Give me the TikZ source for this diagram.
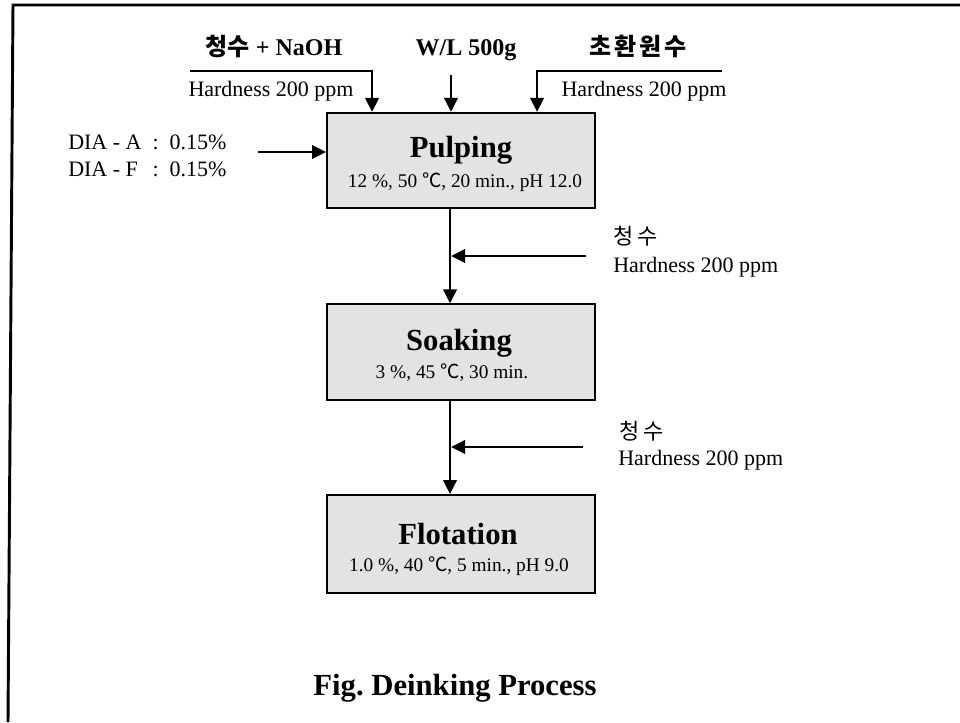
\documentclass[tikz,border=0pt]{standalone}
\usepackage{fontspec}
\setmainfont{Liberation Serif}
\newfontfamily\kr{Noto Sans CJK KR}
\usetikzlibrary{arrows.meta}
\frenchspacing
\begin{document}
\begin{tikzpicture}[x=0.75pt,y=-0.75pt,
  box/.style={draw=black,line width=1.4pt,fill=black!11,minimum width=201pt,minimum height=71.5pt,inner sep=0pt},
  ttl/.style={font=\fontsize{23}{26}\selectfont\bfseries,inner sep=0pt,anchor=base},
  sub/.style={font=\fontsize{14.5}{16}\selectfont,inner sep=0pt,anchor=base},
  toplbl/.style={font=\fontsize{18}{20}\selectfont\bfseries,inner sep=0pt,anchor=base},
  hard/.style={font=\fontsize{16.5}{18}\selectfont,inner sep=0pt,anchor=base},
  krlbl/.style={font=\fontsize{16.5}{18}\selectfont\kr,inner sep=0pt},
  flow/.style={line width=2.1pt,-{Triangle[length=10.5pt,width=10pt]}},
  ]
\useasboundingbox (0,0) rectangle (960,722);
\fill[white] (0,0) rectangle (960,722);
% frame
\draw[line width=2.2pt] (8,722) -- (13,5) -- (960,5);

% process boxes
\node[box] (pulp) at (461,160.5) {};
\node[box] (soak) at (461,352) {};
\node[box,minimum height=73.5pt] (flot) at (461,544) {};

\node[ttl] (pulpT) at (461,157) {Pulping};
\node[sub] (pulpS) at (465,187) {12 \%, 50 {\kr ℃}, 20 min., pH 12.0};
\node[ttl] (soakT) at (459,350) {Soaking};
\node[sub] (soakS) at (452,378) {3 \%, 45 {\kr ℃}, 30 min.};
\node[ttl] (flotT) at (458,544) {Flotation};
\node[sub] (flotS) at (459,571) {1.0 \%, 40 {\kr ℃}, 5 min., pH 9.0};

% top inputs
\node[toplbl] (lblL) at (274,55) {{\kr 청수} + NaOH};
\node[toplbl] (lblM) at (466,55) {W/L 500g};
\node[toplbl] (lblR) at (638,55) {\kr 초\kern2pt 환\kern2pt 원\kern2pt 수};
\node[hard] (hardL) at (271,96) {Hardness 200 ppm};
\node[hard] (hardR) at (644,96) {Hardness 200 ppm};

\coordinate (inL) at (190,71);
\coordinate (inR) at (722,71);
\coordinate (wl) at (451,75);
\draw[flow] (inL) -| ([xshift=34.5pt]pulp.north west);
\draw[flow] (wl) -- (wl |- pulp.north);
\draw[flow] (inR) -| ([xshift=158.25pt]pulp.north west);

% chemicals
\node[font=\fontsize{16.5}{20.25}\selectfont,inner sep=0pt,anchor=north west] (dia) at (68,130)
  {\begin{tabular}{@{}l@{\ \ :\ \ }l@{}}DIA - A & 0.15\%\\ DIA - F & 0.15\%\end{tabular}};
\coordinate (diaS) at (258,152);
\draw[flow] (diaS) -- (pulp.west |- diaS);

% vertical flow
\coordinate (vx) at (450,0);
\draw[flow] (pulp.south -| vx) -- (soak.north -| vx);
\draw[flow] (soak.south -| vx) -- (flot.north -| vx);

% side water inputs
\coordinate (w1) at (586,256);
\coordinate (w2) at (583,447);
\draw[flow,shorten >=0.8pt] (w1) -- (w1 -| vx);
\draw[flow,shorten >=0.8pt] (w2) -- (w2 -| vx);
\node[krlbl,anchor=west] (w1k) at (613,236) {청\kern3pt 수};
\node[hard,anchor=base west] (w1h) at (613,272) {Hardness 200 ppm};
\node[krlbl,anchor=west] (w2k) at (619,431) {청\kern3pt 수};
\node[hard,anchor=base west] (w2h) at (618,465) {Hardness 200 ppm};

% caption
\node[font=\fontsize{23}{26}\selectfont\bfseries,inner sep=0pt] (cap) at (455,688) {Fig. Deinking Process};
\end{tikzpicture}
\end{document}
